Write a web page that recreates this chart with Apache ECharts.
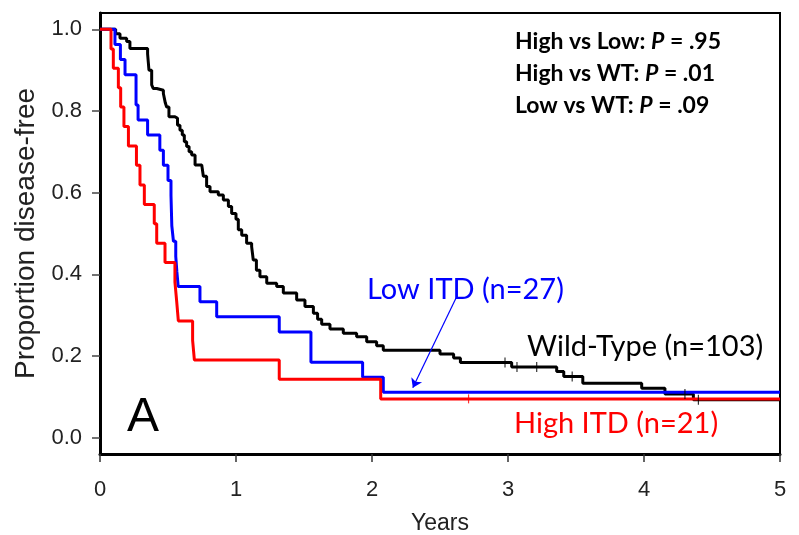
<!DOCTYPE html>
<html>
<head>
<meta charset="utf-8">
<title>Disease-free survival by FLT3-ITD</title>
<script src="https://cdn.jsdelivr.net/npm/echarts@6/dist/echarts.min.js"></script>
<style>
  html, body { margin: 0; padding: 0; background: #fff; }
  #chart { width: 799px; height: 535px; }
</style>
</head>
<body>
<div id="chart"></div>
<script>
// tick values
var yTicks = [0, 0.2, 0.4, 0.6, 0.8, 1.0];

// Kaplan-Meier steps, [years, proportion]
var wildType = [
  [0, 1], [0.115, 0.989], [0.147, 0.978], [0.196, 0.97], [0.22, 0.953], [0.35, 0.94],
  [0.355, 0.92], [0.36, 0.9], [0.38, 0.864], [0.392, 0.855], [0.417, 0.851], [0.466, 0.843],
  [0.48, 0.82], [0.49, 0.81], [0.507, 0.786], [0.551, 0.782], [0.57, 0.765], [0.588, 0.753],
  [0.605, 0.741], [0.62, 0.725], [0.637, 0.713], [0.655, 0.70], [0.674, 0.692], [0.699, 0.668],
  [0.748, 0.664], [0.76, 0.64], [0.784, 0.615], [0.809, 0.602], [0.87, 0.594], [0.907, 0.582],
  [0.944, 0.566], [0.968, 0.549], [1.0, 0.535], [1.017, 0.509], [1.042, 0.496], [1.078, 0.476],
  [1.115, 0.468], [1.127, 0.435], [1.15, 0.41], [1.176, 0.394], [1.226, 0.378], [1.299, 0.37],
  [1.348, 0.354], [1.446, 0.337], [1.507, 0.321], [1.569, 0.305], [1.6, 0.29], [1.63, 0.278],
  [1.691, 0.266], [1.789, 0.256], [1.887, 0.247], [1.961, 0.235], [2.034, 0.225], [2.083, 0.214],
  [2.5, 0.205], [2.6, 0.195], [2.65, 0.184], [3.027, 0.173], [3.358, 0.162], [3.41, 0.15],
  [3.55, 0.133], [3.983, 0.121], [4.154, 0.107], [4.363, 0.093], [5, 0.093]
];
var lowItd = [
  [0, 1], [0.11, 0.963], [0.15, 0.926], [0.184, 0.889], [0.265, 0.815], [0.28, 0.778],
  [0.35, 0.741], [0.44, 0.704], [0.466, 0.667], [0.5, 0.630], [0.522, 0.593], [0.525, 0.556],
  [0.528, 0.519], [0.54, 0.481], [0.557, 0.444], [0.565, 0.407], [0.575, 0.370], [0.735, 0.333],
  [0.858, 0.296], [1.318, 0.259], [1.551, 0.185], [1.931, 0.148], [2.083, 0.111], [5, 0.111]
];
var highItd = [
  [0, 1], [0.081, 0.952], [0.098, 0.905], [0.135, 0.857], [0.152, 0.810], [0.176, 0.762],
  [0.209, 0.714], [0.268, 0.667], [0.294, 0.619], [0.326, 0.571], [0.399, 0.524], [0.417, 0.476],
  [0.478, 0.429], [0.551, 0.381], [0.564, 0.333], [0.576, 0.286], [0.681, 0.238], [0.694, 0.190],
  [1.318, 0.143], [2.064, 0.095], [5, 0.095]
];

// censoring marks
var wildTypeCensor = [[2.978, 0.184], [3.066, 0.173], [3.211, 0.173], [3.472, 0.15], [4.301, 0.107], [4.40, 0.093]];
var highItdCensor = [[2.71, 0.095]];

// arrow from the Low ITD label down to its curve
var lowArrow = [[2.618, 0.342], [2.30, 0.122]];

var pLines = [
  ['High vs Low: ', '.95'],
  ['High vs WT: ', '.01'],
  ['Low vs WT: ', '.09']
];

var axisFont = 'Liberation Sans';
var noteFont = 'Lato';

var chart = echarts.init(document.getElementById('chart'));

var graphics = [];
pLines.forEach(function (p, i) {
  graphics.push({
    type: 'text', x: 515, y: 42 + i * 32,
    style: {
      text: '{b|' + p[0] + '}{i|P}{b| = ' + p[1] + '}',
      verticalAlign: 'middle',
      rich: {
        b: { fontFamily: noteFont, fontWeight: 'bold', fontSize: 23, fill: '#000' },
        i: { fontFamily: noteFont, fontWeight: 'bold', fontStyle: 'italic', fontSize: 23, fill: '#000' }
      }
    }
  });
});
graphics.push(
  { type: 'text', x: 367, y: 290, style: { text: 'Low ITD (n=27)', fontFamily: noteFont, fontSize: 29, fill: '#0000ff', verticalAlign: 'middle' } },
  { type: 'text', x: 527, y: 347, style: { text: 'Wild-Type (n=103)', fontFamily: noteFont, fontSize: 29, fill: '#000', verticalAlign: 'middle' } },
  { type: 'text', x: 514, y: 423.5, style: { text: 'High ITD (n=21)', fontFamily: noteFont, fontSize: 29, fill: '#ff0000', verticalAlign: 'middle' } },
  { type: 'text', x: 127, y: 394, style: { text: 'A', fontFamily: axisFont, fontSize: 48, fill: '#000' } }
);

var option = {
  animation: false,
  grid: {
    left: 100, right: 19, top: 13, bottom: 81,
    outerBoundsMode: 'none',
    show: true, borderColor: '#000', borderWidth: 2, backgroundColor: 'transparent'
  },
  xAxis: {
    type: 'value', min: 0, max: 5, interval: 1,
    name: 'Years', nameLocation: 'middle', nameGap: 58,
    nameTextStyle: { fontFamily: axisFont, fontSize: 23, color: '#222' },
    axisLine: { show: true, onZero: false, lineStyle: { color: '#000', width: 3 } },
    axisTick: { show: true, length: 8, lineStyle: { color: '#333', width: 1.5 } },
    axisLabel: { fontFamily: axisFont, fontSize: 22, color: '#222', margin: 25 },
    splitLine: { show: false }
  },
  yAxis: {
    type: 'value', min: -0.04, max: 1.04,
    name: 'Proportion disease-free', nameLocation: 'middle', nameGap: 60,
    nameTextStyle: { fontFamily: axisFont, fontSize: 28, color: '#222' },
    axisLine: { show: true, onZero: false, lineStyle: { color: '#000', width: 3 } },
    axisTick: { show: true, length: 8, customValues: yTicks, lineStyle: { color: '#444', width: 1.5 } },
    axisLabel: {
      fontFamily: axisFont, fontSize: 22, color: '#222', margin: 18, customValues: yTicks,
      formatter: function (v) { return v.toFixed(1); }
    },
    splitLine: { show: false }
  },
  graphic: graphics,
  series: [
    {
      name: 'Wild-Type', type: 'line', step: 'end', data: wildType, showSymbol: false,
      lineStyle: { color: '#000', width: 3 }, z: 3
    },
    {
      name: 'Low ITD', type: 'line', step: 'end', data: lowItd, showSymbol: false,
      lineStyle: { color: '#0000ff', width: 3 }, z: 4,
      markLine: {
        silent: true, symbol: ['none', 'arrow'], symbolSize: 9,
        lineStyle: { color: '#0000ff', width: 1.2, type: 'solid' },
        label: { show: false },
        data: [[{ coord: lowArrow[0] }, { coord: lowArrow[1] }]]
      }
    },
    {
      name: 'High ITD', type: 'line', step: 'end', data: highItd, showSymbol: false,
      lineStyle: { color: '#ff0000', width: 3 }, z: 5
    },
    {
      name: 'Wild-Type censored', type: 'scatter', data: wildTypeCensor,
      symbol: 'rect', symbolSize: [1.2, 10], itemStyle: { color: '#000' }, z: 6
    },
    {
      name: 'High ITD censored', type: 'scatter', data: highItdCensor,
      symbol: 'rect', symbolSize: [1.2, 9], itemStyle: { color: '#ff0000' }, z: 6
    }
  ]
};

chart.setOption(option);
</script>
</body>
</html>
